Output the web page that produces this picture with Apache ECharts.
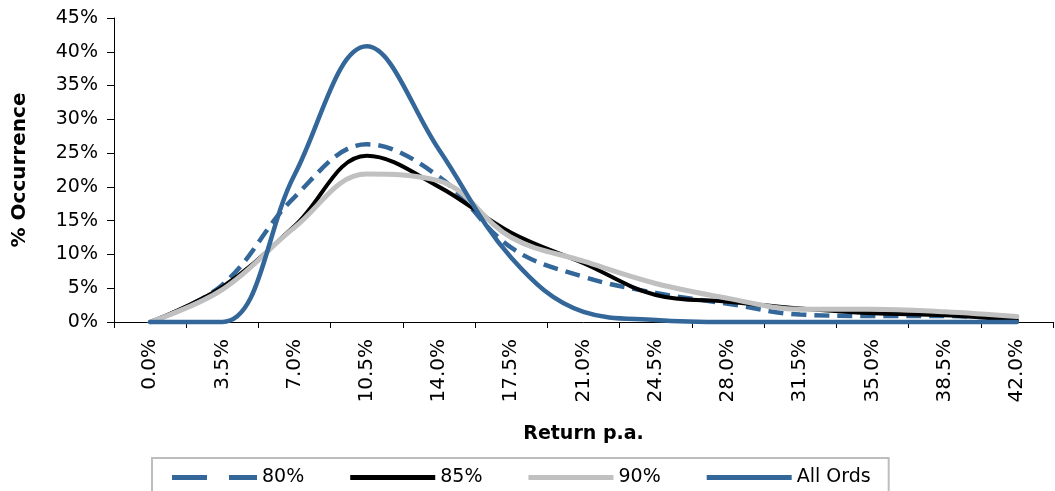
<!DOCTYPE html>
<html>
<head>
<meta charset="utf-8">
<script src="https://cdn.jsdelivr.net/npm/echarts@6/dist/echarts.min.js"></script>
<style>
html,body{margin:0;padding:0;background:#fff;}
#chart{width:1055px;height:491px;}
</style>
</head>
<body>
<div id="chart"></div>
<script>
var categories = ['0.0%','3.5%','7.0%','10.5%','14.0%','17.5%','21.0%','24.5%','28.0%','31.5%','35.0%','38.5%','42.0%'];
var yTicks = [0,5,10,15,20,25,30,35,40,45];
var s80 = [0, 5.5, 18.5, 26.3, 21.5, 11.0, 6.7, 4.3, 2.7, 1.1, 0.9, 0.9, 0.4];
var s85 = [0, 5.2, 14.2, 24.6, 20.0, 13.2, 8.7, 4.0, 3.0, 2.0, 1.3, 1.0, 0.3];
var s90 = [0, 4.8, 14.0, 21.9, 20.9, 12.5, 9.0, 5.7, 3.5, 1.9, 1.9, 1.5, 0.8];
var sAll = [0, 0, 21.8, 40.8, 25.5, 9.5, 1.5, 0.3, 0, 0, 0, 0, 0];
var seriesNames = ['80%','85%','90%','All Ords'];

var BLUE = '#336699';
var FONT = 'DejaVu Sans';
var DASH_ICON = 'path://M0,0h35v5h-35z M57,0h28v5h-28z';
var SOLID_ICON = 'path://M0,0h85v5h-85z';
var chart = echarts.init(document.getElementById('chart'), null, {renderer:'canvas'});
function line(name, data, color, width, type){
  return {
    name: name, type: 'line', data: data, smooth: 0.38, symbol: 'none',
    clip: false,
    lineStyle: {color: color, width: width, type: type || 'solid', cap: type ? 'butt' : 'round'},
    itemStyle: {color: color}
  };
}
chart.setOption({
  animation: false,
  backgroundColor: '#fff',
  grid: {left: 114, right: 2, top: 18, bottom: 169, containLabel: false},
  xAxis: {
    type: 'category', data: categories, boundaryGap: true,
    name: 'Return p.a.', nameLocation: 'middle', nameGap: 103,
    nameTextStyle: {fontFamily: FONT, fontSize: 19, fontWeight: 'bold', color: '#000'},
    axisLine: {lineStyle: {color: '#000', width: 1}},
    axisTick: {show: true, length: 6, lineStyle: {color: '#000'}},
    axisLabel: {rotate: 90, margin: 17, fontFamily: FONT, fontSize: 20, color: '#000', interval: 0},
    splitLine: {show: false}
  },
  yAxis: {
    type: 'value', min: yTicks[0], max: yTicks[yTicks.length-1], interval: 5,
    name: '% Occurrence', nameLocation: 'middle', nameGap: 84, nameRotate: 90,
    nameTextStyle: {fontFamily: FONT, fontSize: 20, fontWeight: 'bold', color: '#000'},
    axisLine: {show: true, lineStyle: {color: '#000', width: 1}},
    axisTick: {show: true, length: 7, lineStyle: {color: '#000'}},
    axisLabel: {formatter: '{value}%', margin: 16, fontFamily: FONT, fontSize: 19, color: '#000'},
    splitLine: {show: false}
  },
  legend: {
    show: true,
    orient: 'horizontal',
    left: 152, top: 458,
    padding: [10, 18, 10, 20],
    borderColor: '#bdbdbd', borderWidth: 2,
    itemWidth: 85, itemHeight: 5, itemGap: 46,
    symbolKeepAspect: false,
    textStyle: {fontFamily: FONT, fontSize: 19, color: '#000'},
    data: [
      {name: seriesNames[0], icon: DASH_ICON},
      {name: seriesNames[1], icon: SOLID_ICON},
      {name: seriesNames[2], icon: SOLID_ICON},
      {name: seriesNames[3], icon: SOLID_ICON}
    ]
  },
  series: [
    line(seriesNames[0], s80, BLUE, 4.5, [15, 8]),
    line(seriesNames[1], s85, '#000', 4),
    line(seriesNames[2], s90, '#c0c0c0', 5),
    line(seriesNames[3], sAll, BLUE, 4.5)
  ]
});
</script>
</body>
</html>
